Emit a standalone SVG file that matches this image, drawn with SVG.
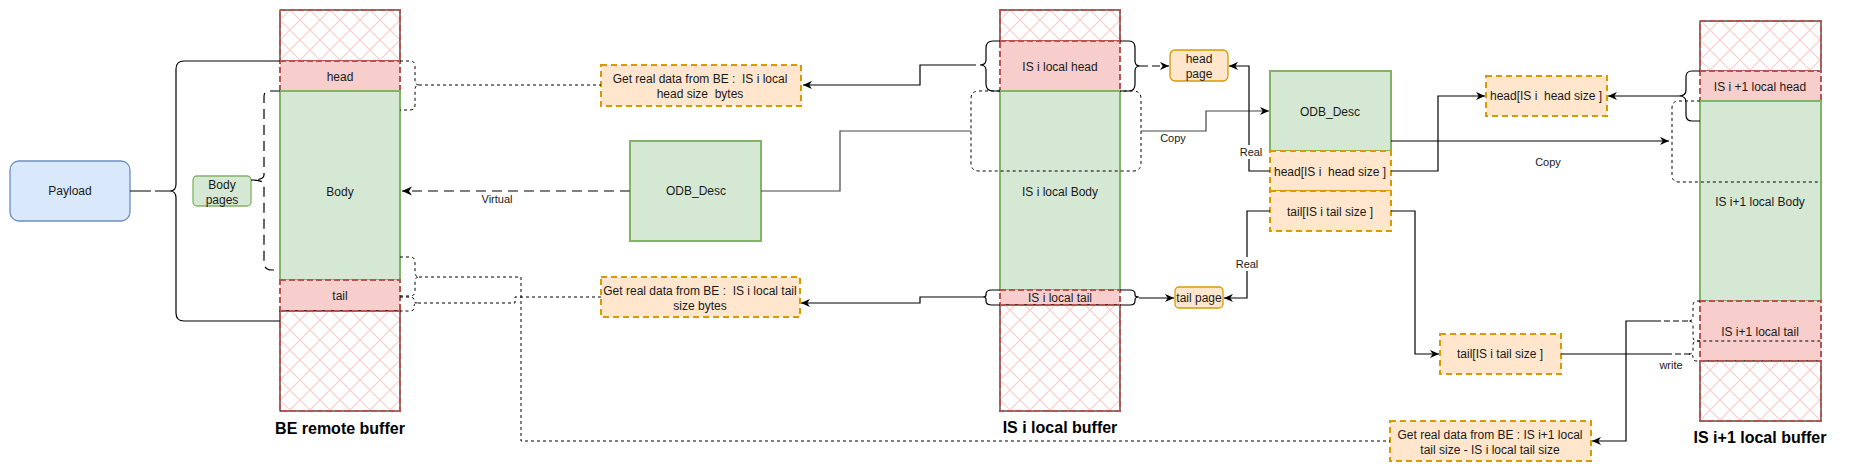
<svg xmlns="http://www.w3.org/2000/svg" width="1851" height="472" viewBox="0 0 1851 472">
<style>
text{font-family:"Liberation Sans",Arial,sans-serif;font-size:12px;fill:#1a1a1a;text-anchor:middle;white-space:pre}
.lbl{font-size:11px}
.big{font-size:16px;font-weight:bold;fill:#000}
.hatch{fill:url(#xh);stroke:#000;stroke-width:1}
.red{fill:#f8cecc;stroke:#b85450;stroke-width:2;stroke-dasharray:6 3}
.redo{fill:none;stroke:#b85450;stroke-width:2;stroke-dasharray:6 3}
.green{fill:#d5e8d4;stroke:#82b366;stroke-width:2}
.org{fill:#ffe6cc;stroke:#d79b00;stroke-width:2;stroke-dasharray:6 4}
.orgr{fill:#ffe6cc;stroke:#d79b00;stroke-width:1.3}
.ln{fill:none;stroke:#000;stroke-width:1.2}
.gr{fill:none;stroke:#444;stroke-width:1.2}
.dot{fill:none;stroke:#000;stroke-width:1;stroke-dasharray:3 3}
.dash{fill:none;stroke:#000;stroke-width:1.2;stroke-dasharray:8 4}
.ldash{fill:none;stroke:#555;stroke-width:1.5;stroke-dasharray:10 6}
</style>
<defs>
<pattern id="xh" patternUnits="userSpaceOnUse" width="20" height="20">
<rect width="20" height="20" fill="#fff"/>
<path d="M0,0 L20,20 M20,0 L0,20" stroke="#f8cecc" stroke-width="1.2"/>
</pattern>
<marker id="ar" viewBox="0 0 10 10" refX="10" refY="5" markerWidth="9" markerHeight="9" markerUnits="userSpaceOnUse" orient="auto">
<path d="M0,0.5 L10,5 L0,9.5 L3,5 z" fill="#000"/>
</marker>
<marker id="arg" viewBox="0 0 10 10" refX="10" refY="5" markerWidth="10" markerHeight="10" markerUnits="userSpaceOnUse" orient="auto">
<path d="M0,0.5 L10,5 L0,9.5 L3,5 z" fill="#000"/>
</marker>
</defs>
<rect width="1851" height="472" fill="#fff"/>

<g id="payload">
<rect x="10" y="161" width="120" height="60" rx="9" fill="#dae8fc" stroke="#6c8ebf" stroke-width="1.3"/>
<text x="70" y="195">Payload</text>
</g>

<g id="be-buffer">
<rect class="hatch" x="280" y="10" width="120" height="51"/>
<rect class="redo" x="280" y="10" width="120" height="51"/>
<rect class="red" x="280" y="61" width="120" height="30"/>
<text x="340" y="81">head</text>
<rect class="green" x="280" y="91" width="120" height="189"/>
<text x="340" y="196">Body</text>
<rect class="red" x="280" y="280" width="120" height="31"/>
<text x="340" y="300">tail</text>
<rect class="hatch" x="280" y="311" width="120" height="100"/>
<rect class="redo" x="280" y="311" width="120" height="100"/>
<text class="big" x="340" y="434">BE remote buffer</text>
</g>

<g id="body-pages">
<rect x="193" y="176" width="58" height="30" rx="4" fill="#d5e8d4" stroke="#82b366" stroke-width="1.3"/>
<text x="222" y="189">Body</text>
<text x="222" y="204">pages</text>
</g>

<g id="odb-desc-left">
<rect class="green" x="630" y="141" width="131" height="100"/>
<text x="696" y="195">ODB_Desc</text>
</g>

<g id="get-head">
<rect class="org" x="601" y="65" width="200" height="41"/>
<text x="700" y="83">Get real data from BE :  IS i local</text>
<text x="700" y="98">head size  bytes</text>
</g>

<g id="get-tail">
<rect class="org" x="601" y="277" width="199" height="40"/>
<text x="700" y="295">Get real data from BE :  IS i local tail</text>
<text x="700" y="310">size bytes</text>
</g>

<g id="is-i-buffer">
<rect class="hatch" x="1000" y="10" width="120" height="31"/>
<rect class="redo" x="1000" y="10" width="120" height="31"/>
<rect class="red" x="1000" y="41" width="120" height="50"/>
<text x="1060" y="71">IS i local head</text>
<rect class="green" x="1000" y="91" width="120" height="199"/>
<text x="1060" y="196">IS i local Body</text>
<rect class="red" x="1000" y="290" width="120" height="15"/>
<text x="1060" y="302">IS i local tail</text>
<rect class="hatch" x="1000" y="305" width="120" height="106"/>
<rect class="redo" x="1000" y="305" width="120" height="106"/>
<text class="big" x="1060" y="433">IS i local buffer</text>
</g>

<g id="head-page">
<rect class="orgr" x="1170" y="50" width="58" height="31" rx="5"/>
<text x="1199" y="63">head</text>
<text x="1199" y="78">page</text>
</g>

<g id="tail-page">
<rect class="orgr" x="1175" y="287" width="48" height="21" rx="4"/>
<text x="1199" y="302">tail page</text>
</g>

<g id="odb-desc-right">
<rect class="green" x="1270" y="71" width="121" height="80"/>
<text x="1330" y="116">ODB_Desc</text>
<rect class="org" x="1270" y="151" width="121" height="40"/>
<text x="1330" y="176">head[IS i  head size ]</text>
<rect class="org" x="1270" y="191" width="121" height="40"/>
<text x="1330" y="216">tail[IS i tail size ]</text>
</g>

<g id="head-copy">
<rect class="org" x="1486" y="76" width="121" height="40"/>
<text x="1546" y="100">head[IS i  head size ]</text>
</g>

<g id="tail-copy">
<rect class="org" x="1440" y="334" width="121" height="40"/>
<text x="1500" y="358">tail[IS i tail size ]</text>
</g>

<g id="get-tail-next">
<rect class="org" x="1390" y="421" width="201" height="40"/>
<text x="1490" y="439">Get real data from BE : IS i+1 local</text>
<text x="1490" y="454">tail size - IS i local tail size</text>
</g>

<g id="is-i1-buffer">
<rect class="hatch" x="1700" y="21" width="121" height="50"/>
<rect class="redo" x="1700" y="21" width="121" height="50"/>
<rect class="red" x="1700" y="71" width="121" height="30"/>
<text x="1760" y="91">IS i +1 local head</text>
<rect class="green" x="1700" y="101" width="121" height="200"/>
<text x="1760" y="206">IS i+1 local Body</text>
<rect class="red" x="1700" y="301" width="121" height="60"/>
<text x="1760" y="336">IS i+1 local tail</text>
<rect class="hatch" x="1700" y="361" width="121" height="60"/>
<rect class="redo" x="1700" y="361" width="121" height="60"/>
<text class="big" x="1760" y="443">IS i+1 local buffer</text>
</g>

<g id="connectors">
<!-- payload brace -->
<path class="ln" d="M130,191 H151 M155,191 H170"/>
<path class="ln" d="M280,61 H184 Q176,61 176,69 V184 Q176,191 170,191 Q176,191 176,198 V313 Q176,321 184,321 H280"/>
<!-- body pages brace -->
<path class="ln" d="M251,180 H252"/>
<path class="ln" style="stroke-dasharray:10 6" d="M280,91 H268 Q264,91 264,97 V175 Q264,180 252,180 Q264,180 264,185 V262 Q264,270 272,270 H277"/>
<!-- BE head brace -->
<path class="dot" d="M400,61 H410 Q415,61 415,66 V80 Q415,85 419,85 Q415,85 415,90 V105 Q415,110 410,110 H400"/>
<path class="dot" d="M419,85 H601"/>
<!-- BE tail braces -->
<path class="dot" d="M400,257 H410 Q415,257 415,262 V272 Q415,277 419,277 Q415,277 415,282 V291 Q415,296 410,296 H400"/>
<path class="dot" d="M400,297 H410 Q414,297 414,300 V301 Q414,303 418,303 Q414,303 414,306 V308 Q414,311 410,311 H400"/>
<path class="dot" d="M419,277 H521 V441 H1390"/>
<path class="dot" d="M418,303 H515 V297 H601"/>
<!-- virtual -->
<path class="ldash" d="M630,191 H402" marker-end="url(#arg)"/>
<text class="lbl" x="497" y="203">Virtual</text>
<!-- ODB left to IS i copy region -->
<path class="gr" d="M761,191 H840 V131 H971"/>
<!-- IS i head left brace to get-head -->
<path class="ln" d="M1000,41 H993 Q986,41 986,48 V60 Q986,65 980,65 Q986,65 986,70 V84 Q986,91 993,91 H1000"/>
<path class="ln" d="M976,65 H920 V85 H803" marker-end="url(#ar)"/>
<!-- IS i head right brace to head page -->
<path class="ln" d="M1120,41 H1129 Q1135,41 1135,48 V61 Q1135,66 1140,66 Q1135,66 1135,71 V84 Q1135,91 1129,91 H1120"/>
<path class="dash" d="M1140,66 H1169" marker-end="url(#ar)"/>
<!-- copy region -->
<path class="dot" d="M1000,91 H979 Q971,91 971,99 V163 Q971,171 979,171 H1133 Q1141,171 1141,163 V99 Q1141,91 1133,91 H1120"/>
<path class="gr" d="M1141,131 H1206 V111 H1269" marker-end="url(#ar)"/>
<text class="lbl" x="1173" y="142">Copy</text>
<!-- real head -->
<path class="ln" d="M1270,171 H1249 V66 H1229" marker-end="url(#ar)"/>
<rect x="1237" y="145" width="28" height="14" fill="#fff"/>
<text class="lbl" x="1251" y="156">Real</text>
<!-- real tail -->
<path class="ln" d="M1270,211 H1247 V298 H1224" marker-end="url(#ar)"/>
<rect x="1233" y="257" width="28" height="14" fill="#fff"/>
<text class="lbl" x="1247" y="268">Real</text>
<!-- IS i tail left brace to get-tail -->
<path class="ln" d="M1000,290 H992 Q986,290 986,294 V295 Q986,297 983,297 Q986,297 986,299 V301 Q986,305 992,305 H1000"/>
<path class="ln" d="M983,297 H920 V303 H801" marker-end="url(#ar)"/>
<!-- IS i tail right brace to tail page -->
<path class="ln" d="M1120,290 H1130 Q1135,290 1135,294 V295 Q1135,297 1139,297 Q1135,297 1135,300 V301 Q1135,305 1130,305 H1120"/>
<path class="ln" d="M1139,298 H1174" marker-end="url(#ar)"/>
<!-- ODB right to IS i+1 body -->
<path class="ln" d="M1391,141 H1669" marker-end="url(#ar)"/>
<text class="lbl" x="1548" y="166">Copy</text>
<path class="dot" d="M1700,101 H1679 Q1672,101 1672,108 V175 Q1672,182 1679,182 H1821"/>
<!-- head[] to head copy -->
<path class="ln" d="M1391,171 H1438 V96 H1485" marker-end="url(#ar)"/>
<!-- IS i+1 head brace -->
<path class="ln" d="M1700,71 H1692 Q1686,71 1686,77 V90 Q1686,96 1679,96 Q1686,96 1686,102 V115 Q1686,121 1692,121 H1700"/>
<path class="ln" d="M1679,96 H1608" marker-end="url(#ar)"/>
<!-- tail[] to tail copy -->
<path class="ln" d="M1391,211 H1415 V354 H1439" marker-end="url(#ar)"/>
<!-- write -->
<path class="ln" d="M1561,354 H1666"/>
<path class="dash" style="stroke-dasharray:6 3" d="M1666,354 H1690"/>
<text class="lbl" x="1671" y="369">write</text>
<!-- IS i+1 tail braces -->
<path class="dot" d="M1700,301 H1697 Q1693,301 1693,306 V317 Q1693,321 1688,321 Q1693,321 1693,325 V337 Q1693,341 1697,341 H1821"/>
<path class="dot" d="M1700,341 H1697 Q1693,341 1693,345 V350 Q1693,354 1689,354 Q1693,354 1693,357 V358 Q1693,361 1697,361 H1700"/>
<path class="dash" style="stroke-dasharray:6 3" d="M1688,321 H1661"/>
<path class="ln" d="M1661,321 H1626 V441 H1592" marker-end="url(#ar)"/>
</g>
</svg>
